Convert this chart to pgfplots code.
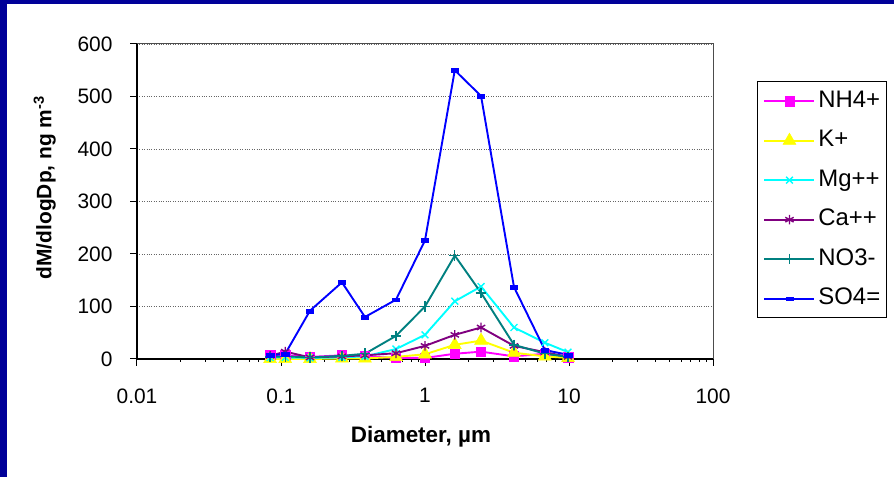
\documentclass[border=0pt]{standalone}
\usepackage{fontspec}
\setmainfont{Liberation Sans}
\usepackage{pgfplots}
\pgfplotsset{compat=1.18}
\definecolor{navyb}{RGB}{0,0,153}
\definecolor{cNH}{RGB}{255,0,255}
\definecolor{cK}{RGB}{255,255,0}
\definecolor{cMg}{RGB}{0,255,255}
\definecolor{cCa}{RGB}{128,0,128}
\definecolor{cNO}{RGB}{0,128,128}
\definecolor{cSO}{RGB}{0,0,255}
\begin{document}
\begin{tikzpicture}[x=1bp,y=1bp]
\fill[navyb] (0,0) rectangle (894,477);
\fill[white] (7,0) rectangle (894,473);
\useasboundingbox (0,0) rectangle (894,477);
\begin{axis}[
  at={(137bp,118bp)}, anchor=south west,
  scale only axis, width=576bp, height=315bp,
  xmode=log, xmin=0.01, xmax=100, ymin=0, ymax=600,
  axis x line*=bottom, axis y line*=left,
  axis line style={black, line width=1.8bp, -},
  xtick={0.01,0.1,1,10,100}, xticklabels={0.01,0.1,1,10,100},
  ytick={0,100,200,300,400,500,600}, yticklabels={0,100,200,300,400,500,600},
  minor xtick={}, minor ytick={},
  tick align=outside, major tick length=7bp,
  tick style={black, line width=1bp},
  ymajorgrids, major grid style={dotted, gray!80!black, line width=0.8bp},
  ticklabel style={font=\fontsize{21}{21}\selectfont},
  xticklabel style={yshift=-19bp},
  yticklabel style={xshift=-14bp},
  every axis y label/.style={at={(axis description cs:-0.160,0.544)}, rotate=90, anchor=center},
  every axis x label/.style={at={(axis description cs:0.493,-0.248)}, anchor=center},
  ylabel={\fontsize{21}{21}\selectfont\bfseries dM/dlogDp, ng m\textsuperscript{-3}},
  xlabel={\fontsize{22.5}{22.5}\selectfont\bfseries Diameter, µm},
  clip=false,
  legend style={at={(axis description cs:1.0764,0.505)}, anchor=west,
    draw=black, line width=1bp, fill=white, inner xsep=6bp, inner ysep=8bp,
    font=\fontsize{24}{24}\selectfont, row sep=17bp,
    nodes={inner sep=0pt, text height=17.5bp, text depth=5bp},
    column sep=3bp},
  legend cell align=left,
  legend image code/.code={\draw[mark repeat=2,mark phase=2,#1] plot coordinates {(0bp,0bp) (25bp,0bp) (50bp,0bp)};},
  every axis plot/.append style={line width=1.9bp},
]
\addplot[cNH, mark=square*, mark size=4.7bp, mark options={solid, fill=cNH, line width=0.5bp}] coordinates {
(0.084,8) (0.107,7) (0.159,4) (0.265,7) (0.383,5) (0.629,2) (1.0,2) (1.61,10) (2.45,14) (4.15,5) (6.8,10) (9.85,3)};
\addlegendentry{NH4+}
\addplot[cK, mark=triangle*, mark size=7.5bp, mark options={solid, fill=cK, line width=0.5bp}] coordinates {
(0.084,0) (0.107,0) (0.159,0) (0.265,1) (0.383,1) (0.629,4) (1.0,9) (1.61,27) (2.45,35) (4.15,12) (6.8,5) (9.85,2)};
\addlegendentry{K+}
\addplot[cMg, mark=x, mark size=4.8bp, mark options={solid, line width=1.4bp}] coordinates {
(0.084,3) (0.107,3) (0.159,2) (0.265,3) (0.383,5) (0.629,19) (1.0,46) (1.61,110) (2.45,138) (4.15,60) (6.8,31) (9.85,13)};
\addlegendentry{Mg++}
\addplot[cCa, mark=asterisk, mark size=4.8bp, mark options={solid, line width=1.4bp}] coordinates {
(0.084,6) (0.107,14) (0.159,3) (0.265,5) (0.383,7) (0.629,11) (1.0,25) (1.61,46) (2.45,60) (4.15,25) (6.8,13) (9.85,4)};
\addlegendentry{Ca++}
\addplot[cNO, mark=+, mark size=5.3bp, mark options={solid, line width=1.4bp}] coordinates {
(0.084,4) (0.107,5) (0.159,3) (0.265,6) (0.383,10) (0.629,44) (1.0,100) (1.61,197) (2.45,126) (4.15,27) (6.8,10) (9.85,4)};
\addlegendentry{NO3-}
\addplot[cSO, mark=square*, mark size=3.6bp, mark options={solid, fill=cSO, yscale=0.55, line width=0.3bp}] coordinates {
(0.084,7) (0.107,10) (0.159,92) (0.265,146) (0.383,80) (0.629,113) (1.0,226) (1.61,550) (2.45,501) (4.15,137) (6.8,17) (9.85,8)};
\addlegendentry{SO4=}
\draw[gray!60!black, line width=1bp] (rel axis cs:0,1) -- (rel axis cs:1,1) -- (rel axis cs:1,0);
\end{axis}
\end{tikzpicture}
\end{document}
